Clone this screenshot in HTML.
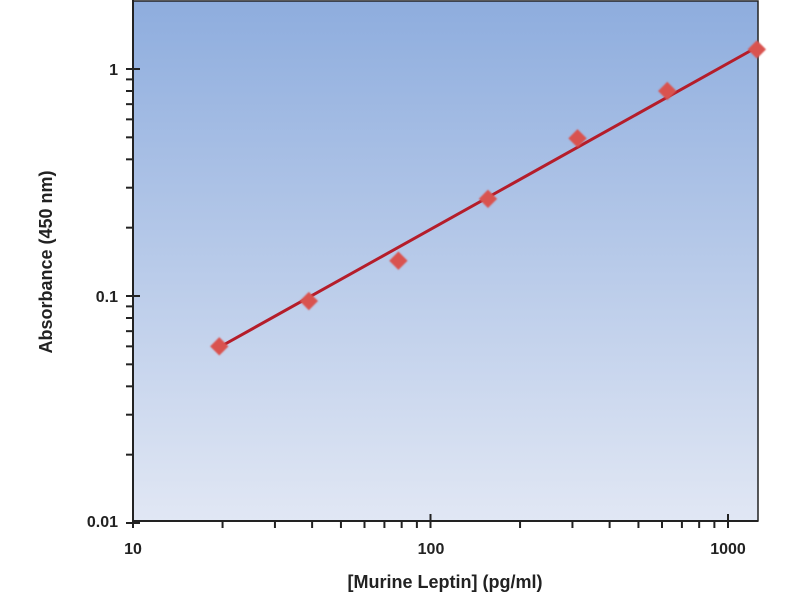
<!DOCTYPE html>
<html><head><meta charset="utf-8"><style>
body{margin:0;background:#fff;width:800px;height:600px;overflow:hidden}
text{font-family:"Liberation Sans",sans-serif;font-weight:bold;fill:#222}
</style></head><body>
<svg id="s" width="800" height="600" xmlns="http://www.w3.org/2000/svg">
<defs>
<linearGradient id="g" x1="0" y1="0" x2="0" y2="1">
<stop offset="0" stop-color="#8eadde"/><stop offset="1" stop-color="#e1e7f4"/>
</linearGradient>
<filter id="b"><feGaussianBlur stdDeviation="0.7"/></filter>
</defs>
<rect x="133" y="1" width="625" height="520" fill="url(#g)" stroke="#222" stroke-width="1.5"/>
<g id="ax" stroke="#222" stroke-width="2"></g>
<line x1="218" y1="348" x2="759" y2="46" stroke="#b51d2a" stroke-width="3"/>
<g id="pts" fill="#d9534f" filter="url(#b)"></g>
<g font-size="16" text-anchor="end">
<text x="118" y="75">1</text><text x="118" y="302">0.1</text><text x="118" y="527">0.01</text>
</g>
<g font-size="16" text-anchor="middle">
<text x="133" y="554">10</text><text x="431" y="554">100</text><text x="728" y="554">1000</text>
</g>
<text x="445" y="588" font-size="18" text-anchor="middle">[Murine Leptin] (pg/ml)</text>
<text transform="translate(52,262) rotate(-90)" font-size="18" text-anchor="middle">Absorbance (450 nm)</text>
</svg>
<script>
var ns="http://www.w3.org/2000/svg",ax=document.getElementById("ax"),pts=document.getElementById("pts");
function L(a,b,c,d){var l=document.createElementNS(ns,"line");l.setAttribute("x1",a);l.setAttribute("y1",b);l.setAttribute("x2",c);l.setAttribute("y2",d);ax.appendChild(l);}
function X(v){return 133+297.5*Math.log10(v/10);}
function Y(v){return 69-227*Math.log10(v);}
L(133,0,133,522);L(133,521,758,521);
for(var d=10;d<=1000;d*=10)for(var k=1;k<10;k++){var v=d*k;var x=X(v);if(x>758)break;if(k==1)L(x,514,x,528);else L(x,521,x,528);}
for(var d=0.01;d<=1;d*=10)for(var k=1;k<10;k++){var v=d*k;var y=Y(v);if(y<1)break;if(k==1)L(126,y,140,y);else L(126,y,133,y);}
[[19.5,0.06],[39,0.095],[78,0.143],[156,0.268],[312,0.495],[625,0.8],[1250,1.22]].forEach(function(p){
var x=X(p[0]),y=Y(p[1]);var r=document.createElementNS(ns,"rect");
r.setAttribute("x",x-6.5);r.setAttribute("y",y-6.5);r.setAttribute("width",13);r.setAttribute("height",13);
r.setAttribute("transform","rotate(45 "+x+" "+y+")");pts.appendChild(r);});
</script>
</body></html>
